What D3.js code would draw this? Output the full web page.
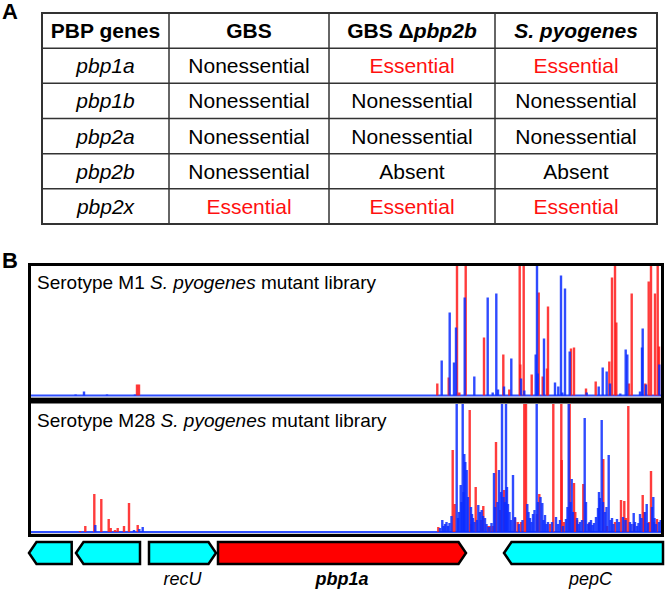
<!DOCTYPE html>
<html><head><meta charset="utf-8">
<script src="https://cdn.jsdelivr.net/npm/d3@7"></script>
<style>body{margin:0;background:#fff}svg{display:block;font-family:Arial,"Liberation Sans",sans-serif}</style>
</head><body><svg id="c" width="666" height="589"></svg>
<script>
// ---------- Panel A data ----------
const headerLabels = [
  [{t:"PBP genes",i:false}],
  [{t:"GBS",i:false}],
  [{t:"GBS \u0394",i:false},{t:"pbp2b",i:true}],
  [{t:"S. pyogenes",i:true}]
];
const pbpGenes = ["pbp1a","pbp1b","pbp2a","pbp2b","pbp2x"];
const gbsStatus = ["Nonessential","Nonessential","Nonessential","Nonessential","Essential"];
const gbsDeltaStatus = ["Essential","Nonessential","Nonessential","Absent","Essential"];
const spyoStatus = ["Essential","Nonessential","Nonessential","Absent","Essential"];

// ---------- Panel B data (position bp, reads) ----------
const genomeLength = 6340;
const m1Plus = [[1080,11],[1100,11],[4083,12],[4197,18],[4280,200],[4303,3],[4367,200],[4550,58],[4743,41],[4803,6],[4907,200],[4913,31],[4947,200],[5027,21],[5097,103],[5137,19],[5180,27],[5190,89],[5420,47],[5450,48],[5570,7],[5667,14],[5803,34],[5830,118],[5860,200],[5873,73],[6000,12],[6027,102],[6163,12],[6197,114],[6220,200],[6260,102],[6287,200],[6300,49]];
const m1Minus = [[466,1],[550,4],[780,1],[1060,1],[4127,35],[4207,83],[4250,33],[4270,68],[4357,98],[4453,19],[4587,98],[4637,3],[4673,102],[4690,6],[4750,9],[4823,37],[4920,17],[4953,5],[5067,41],[5080,200],[5087,22],[5150,57],[5260,13],[5293,9],[5320,120],[5333,3],[5360,107],[5407,44],[5577,3],[5697,9],[5737,28],[5777,24],[5810,12],[5913,2],[5967,46],[5983,41],[6110,4],[6130,48],[6137,67],[6170,11],[6303,31]];
const m28Plus = [[510,1],[563,6],[653,38],[723,33],[797,13],[817,4],[860,2],[887,4],[950,6],[1000,29],[1087,7],[4093,5],[4237,82],[4257,28],[4407,122],[4420,8],[4467,45],[4520,12],[4543,26],[4590,6],[4610,6],[4640,6],[4670,90],[4710,22],[4750,42],[4860,14],[4887,10],[4920,10],[4953,200],[4970,200],[5080,18],[5103,38],[5210,8],[5243,200],[5323,200],[5327,72],[5350,10],[5407,200],[5450,49],[5463,20],[5480,12],[5543,48],[5600,9],[5743,73],[5780,6],[5860,10],[5920,32],[5953,31],[5970,14],[5993,126],[6050,8],[6137,37],[6150,20],[6200,10],[6220,61],[6250,10],[6280,13]];
const m28Minus = [[663,7],[1050,2],[1103,3],[1137,5],[4110,4],[4133,12],[4145,6],[4160,8],[4175,10],[4190,6],[4205,9],[4225,16],[4277,200],[4290,14],[4300,20],[4317,47],[4325,30],[4337,200],[4345,40],[4353,78],[4363,70],[4377,62],[4390,35],[4420,25],[4430,18],[4440,14],[4455,10],[4480,12],[4493,27],[4510,20],[4527,22],[4540,16],[4560,14],[4575,8],[4600,5],[4625,9],[4650,59],[4660,25],[4685,30],[4700,62],[4720,40],[4730,200],[4745,35],[4760,30],[4770,200],[4780,45],[4790,28],[4805,20],[4820,12],[4840,57],[4860,15],[4900,8],[4935,12],[4983,28],[4995,20],[5010,14],[5025,10],[5040,18],[5055,22],[5077,200],[5090,30],[5115,35],[5133,29],[5145,12],[5160,17],[5175,8],[5190,10],[5230,10],[5270,15],[5290,8],[5310,12],[5340,6],[5370,13],[5385,25],[5397,200],[5415,30],[5427,53],[5440,20],[5480,14],[5495,8],[5510,10],[5530,12],[5557,114],[5570,30],[5590,8],[5605,10],[5620,12],[5635,7],[5650,9],[5670,15],[5690,24],[5700,40],[5710,34],[5727,112],[5740,30],[5760,20],[5775,25],[5797,77],[5815,12],[5830,14],[5845,8],[5880,13],[5900,10],[5940,15],[5965,12],[6010,10],[6025,8],[6047,19],[6060,10],[6080,6],[6095,9],[6110,18],[6125,14],[6160,20],[6177,28],[6190,9],[6230,25],[6243,35],[6255,14],[6270,8],[6300,10],[6317,12],[6333,200]];
const trackTitles = [["Serotype M1 ","S. pyogenes"," mutant library"],["Serotype M28 ","S. pyogenes"," mutant library"]];

// genes
const geneNames = ["", "", "recU", "pbp1a", "pepC"];
const geneStarts = [0, 470, 1200, 1890, 4750];
const geneEnds = [427, 1110, 1870, 4370, 6340];
const geneStrands = [-1, -1, 1, 1, -1];

const svg = d3.select("#c");

// ---------- Panel A ----------
svg.append("text").attr("x",2).attr("y",19).attr("font-size",22).attr("font-weight","bold").text("A");
const colEdges = [42,169,329,495,657];
const rowScale = d3.scaleBand().domain(d3.range(6)).range([13,224]);
const tA = svg.append("g");
const rowsData = [headerLabels].concat(pbpGenes.map((g,i)=>[g,gbsStatus[i],gbsDeltaStatus[i],spyoStatus[i]]));
rowsData.forEach((row,ri)=>{
  const y = rowScale(ri), h = rowScale.bandwidth();
  row.forEach((cell,ci)=>{
    const cx = (colEdges[ci]+colEdges[ci+1])/2;
    const t = tA.append("text").attr("x",cx).attr("y",y+h/2+7.5).attr("text-anchor","middle").attr("font-size",21);
    if (ri===0) {
      t.attr("font-weight","bold");
      cell.forEach(p=>t.append("tspan").attr("font-style",p.i?"italic":"normal").text(p.t));
    } else if (ci===0) {
      t.attr("font-style","italic").text(cell);
    } else {
      t.attr("fill", cell==="Essential"?"#ff1010":"#000").text(cell);
    }
  });
});
d3.range(1,6).forEach(i=>tA.append("line").attr("x1",42).attr("x2",657).attr("y1",rowScale(i)).attr("y2",rowScale(i)).attr("stroke","#333").attr("stroke-width",1.5));
colEdges.slice(1,4).forEach(x=>tA.append("line").attr("x1",x).attr("x2",x).attr("y1",13).attr("y2",224).attr("stroke","#333").attr("stroke-width",1.5));
tA.append("rect").attr("x",42).attr("y",13).attr("width",615).attr("height",211).attr("fill","none").attr("stroke","#333").attr("stroke-width",2);

// ---------- Panel B ----------
svg.append("text").attr("x",2).attr("y",268).attr("font-size",22).attr("font-weight","bold").text("B");
const x = d3.scaleLinear().domain([0,genomeLength]).range([29,663]);
const tracks = [
  {top:266, base:395.5, bottom:399, plus:m1Plus, minus:m1Minus, titleY:289},
  {top:404, base:532, bottom:534, plus:m28Plus, minus:m28Minus, titleY:427}
];
tracks.forEach((tr,ti)=>{
  const g = svg.append("g");
  const id = "clip"+ti;
  svg.append("clipPath").attr("id",id).append("rect").attr("x",30).attr("y",tr.top).attr("width",632).attr("height",tr.bottom-tr.top);
  const y = d3.scaleLinear().domain([0,130]).range([tr.base, tr.base-130]);
  const bars = g.append("g").attr("clip-path",`url(#${id})`);
  bars.append("line").attr("x1",30).attr("x2",662).attr("y1",tr.base+2).attr("y2",tr.base+2).attr("stroke","#aaa").attr("stroke-width",1);
  bars.append("line").attr("x1",30).attr("x2",662).attr("y1",tr.base).attr("y2",tr.base).attr("stroke","#3050ff").attr("stroke-width",2);
  [[tr.plus,"#ff1a1a"],[tr.minus,"#0a2cff"]].forEach(([data,col])=>{
    bars.selectAll(null).data(data).enter().append("rect")
      .attr("x",d=>x(d[0])-1.2).attr("width",2.4)
      .attr("y",d=>y(d[1])).attr("height",d=>tr.base-y(d[1]))
      .attr("fill",col).attr("fill-opacity",0.85);
  });
  const tt = g.append("text").attr("x",37).attr("y",tr.titleY).attr("font-size",19);
  trackTitles[ti].forEach((p,k)=>tt.append("tspan").attr("font-style",k===1?"italic":"normal").text(p));
});
svg.append("rect").attr("x",29.5).attr("y",264.5).attr("width",633).attr("height",135).attr("fill","none").attr("stroke","#000").attr("stroke-width",3);
svg.append("rect").attr("x",29.5).attr("y",402).attr("width",633).attr("height",133.5).attr("fill","none").attr("stroke","#000").attr("stroke-width",3);

const gy0 = 542, gy1 = 564, tip = 7.5;
const gg = svg.append("g");
geneNames.forEach((n,i)=>{
  const a = x(geneStarts[i]), b = x(geneEnds[i]), m=(gy0+gy1)/2;
  let pts;
  if (geneStrands[i] > 0) pts = [[a,gy0],[b-tip,gy0],[b,m],[b-tip,gy1],[a,gy1]];
  else pts = [[a,m],[a+tip,gy0],[b,gy0],[b,gy1],[a+tip,gy1]];
  gg.append("polygon").attr("points",pts.map(p=>p.join(",")).join(" "))
    .attr("fill", n==="pbp1a" ? "#ff0000" : "#00ffff").attr("stroke","#000").attr("stroke-width",2.5).attr("stroke-linejoin","miter");
  if (n) gg.append("text").attr("x",(a+b)/2 + (n==="pepC"?7:0)).attr("y",585).attr("text-anchor","middle")
    .attr("font-size",18).attr("font-style","italic").attr("font-weight",n==="pbp1a"?"bold":"normal").text(n);
});
</script></body></html>
